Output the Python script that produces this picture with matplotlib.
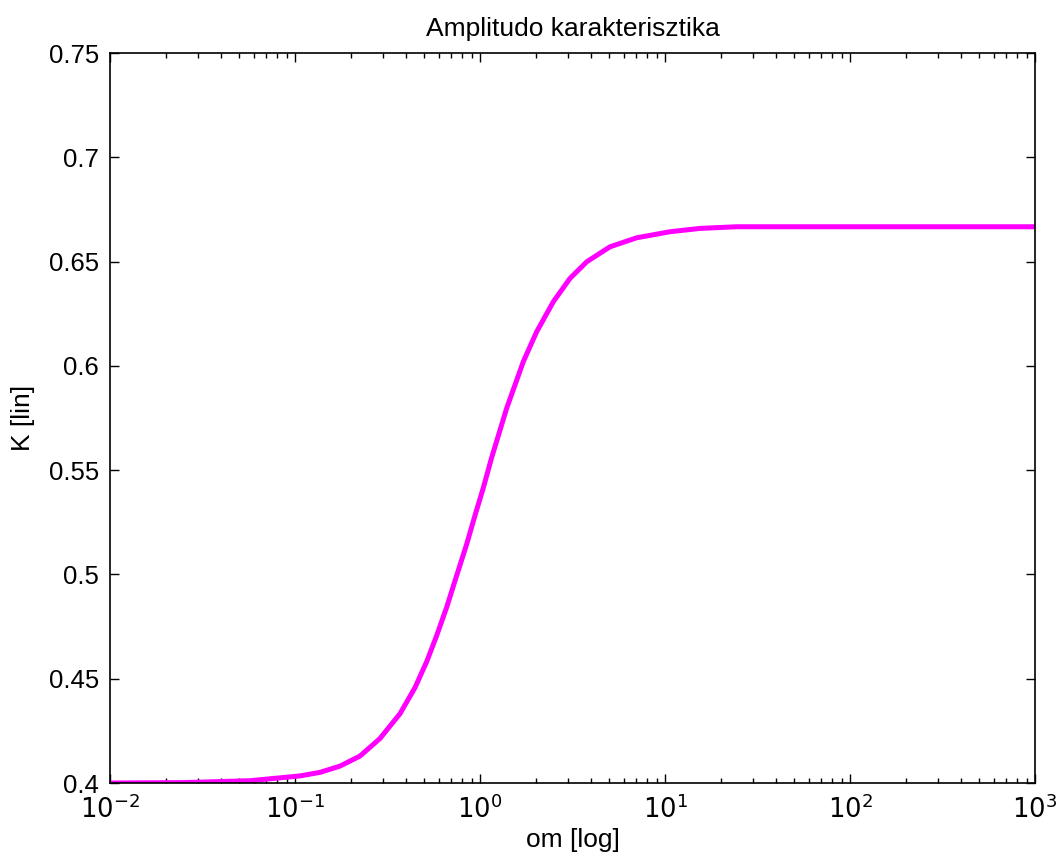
import matplotlib
matplotlib.use("Agg")
import matplotlib.pyplot as plt
from matplotlib.ticker import LogLocator, FixedLocator, FixedFormatter, NullFormatter

plt.rcParams['font.family'] = ['Liberation Sans', 'DejaVu Sans']

# Data
om = [0.01, 0.0251, 0.0571, 0.1064, 0.1365, 0.175, 0.2244, 0.2877, 0.3698,
      0.4457, 0.5152, 0.5834, 0.6607, 0.7482, 0.8472, 0.9397, 1.042, 1.156,
      1.393, 1.714, 2.023, 2.489, 3.062, 3.776, 5.047, 7.031, 10.64, 15.45,
      24.43, 100.0, 1000.0]
K = [0.4000, 0.4002, 0.4011, 0.4034, 0.4051, 0.4081, 0.4129, 0.4213, 0.4333,
     0.4458, 0.4582, 0.4707, 0.4843, 0.4995, 0.5145, 0.5283, 0.5415, 0.5560,
     0.5796, 0.6020, 0.6163, 0.6307, 0.6419, 0.6499, 0.6571, 0.6614, 0.6643,
     0.6659, 0.6667, 0.6667, 0.6667]

yticks = [0.4, 0.45, 0.5, 0.55, 0.6, 0.65, 0.7, 0.75]
ytick_labels = ['0.4', '0.45', '0.5', '0.55', '0.6', '0.65', '0.7', '0.75']
xticks = [1e-2, 1e-1, 1e0, 1e1, 1e2, 1e3]
xtick_labels = [r'$10^{-2}$', r'$10^{-1}$', r'$10^{0}$', r'$10^{1}$', r'$10^{2}$', r'$10^{3}$']

fig = plt.figure(figsize=(10.58, 8.64), dpi=100)
ax = fig.add_axes([110/1058, 81/864, 925/1058, 730/864])
ax.plot(om, K, color=(1, 0, 1), linewidth=3.6, solid_capstyle='butt',
        solid_joinstyle='round')
ax.set_xscale('log')
ax.set_xlim(1e-2, 1e3)
ax.set_ylim(0.4, 0.75)

ax.xaxis.set_major_locator(FixedLocator(xticks))
ax.xaxis.set_major_formatter(FixedFormatter(xtick_labels))
ax.xaxis.set_minor_locator(LogLocator(base=10, subs=range(2, 10), numticks=20))
ax.xaxis.set_minor_formatter(NullFormatter())
ax.yaxis.set_major_locator(FixedLocator(yticks))
ax.yaxis.set_major_formatter(FixedFormatter(ytick_labels))

ax.tick_params(which='both', direction='in', top=True, right=True, width=1.0, colors='black')
ax.tick_params(which='major', length=6.5, labelsize=18.5, pad=8)
ax.tick_params(which='minor', length=3.5)
for s in ax.spines.values():
    s.set_linewidth(1.2)

ax.set_title('Amplitudo karakterisztika', fontsize=19, pad=12)
ax.set_xlabel('om [log]', fontsize=19, labelpad=4)
ax.set_ylabel('K [lin]', fontsize=19, labelpad=10)

fig.savefig('out.png', dpi=100)
